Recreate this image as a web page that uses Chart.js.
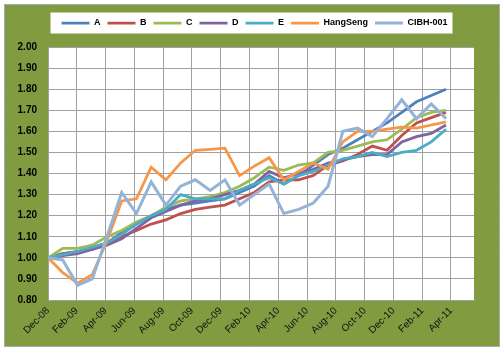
<!DOCTYPE html>
<html>
<head>
<meta charset="utf-8">
<script src="https://cdn.jsdelivr.net/npm/chart.js@4.4.0/dist/chart.umd.min.js"></script>
<style>
  html, body { margin: 0; padding: 0; background: #fff; }
</style>
</head>
<body>
<canvas id="myChart" width="504" height="353"></canvas>
<script>
// series names, in legend order
const seriesNames = ['A', 'B', 'C', 'D', 'E', 'HangSeng', 'CIBH-001'];

const seriesA = [1.00, 1.02, 1.03, 1.05, 1.07, 1.12, 1.16, 1.20, 1.23, 1.25, 1.26, 1.27, 1.28, 1.31,
                 1.34, 1.39, 1.35, 1.39, 1.44, 1.49, 1.52, 1.56, 1.60, 1.64, 1.69, 1.74, 1.77, 1.80];
const seriesB = [1.00, 1.02, 1.03, 1.04, 1.07, 1.10, 1.13, 1.16, 1.18, 1.21, 1.23, 1.24, 1.25, 1.28,
                 1.31, 1.36, 1.37, 1.37, 1.39, 1.44, 1.46, 1.49, 1.53, 1.51, 1.58, 1.64, 1.665, 1.69];
const seriesC = [1.00, 1.045, 1.045, 1.06, 1.10, 1.13, 1.17, 1.20, 1.24, 1.27, 1.28, 1.29, 1.31, 1.34,
                 1.38, 1.43, 1.415, 1.44, 1.45, 1.50, 1.51, 1.53, 1.55, 1.56, 1.61, 1.665, 1.69, 1.70];
const seriesD = [1.00, 1.01, 1.02, 1.04, 1.06, 1.09, 1.14, 1.19, 1.22, 1.25, 1.27, 1.28, 1.30, 1.32,
                 1.35, 1.41, 1.38, 1.40, 1.42, 1.45, 1.465, 1.48, 1.49, 1.49, 1.55, 1.575, 1.59, 1.63];
const seriesE = [1.00, 1.015, 1.03, 1.05, 1.07, 1.11, 1.16, 1.20, 1.23, 1.30, 1.28, 1.28, 1.28, 1.32,
                 1.35, 1.38, 1.35, 1.39, 1.41, 1.44, 1.47, 1.48, 1.50, 1.48, 1.50, 1.51, 1.55, 1.61];
const hangSeng = [1.00, 0.93, 0.88, 0.92, 1.08, 1.27, 1.28, 1.43, 1.37, 1.45, 1.51, 1.515, 1.52, 1.39,
                  1.435, 1.475, 1.37, 1.41, 1.45, 1.42, 1.55, 1.60, 1.60, 1.61, 1.62, 1.615, 1.63, 1.645];
const cibh001 = [1.00, 0.99, 0.87, 0.90, 1.10, 1.31, 1.21, 1.36, 1.25, 1.34, 1.37, 1.32, 1.37, 1.25,
                 1.30, 1.35, 1.21, 1.23, 1.26, 1.34, 1.60, 1.615, 1.575, 1.66, 1.75, 1.66, 1.73, 1.66];

// x axis tick labels, one every two months
const monthLabels = ['Dec-08', 'Feb-09', 'Apr-09', 'Jun-09', 'Aug-09', 'Oct-09', 'Dec-09', 'Feb-10',
                     'Apr-10', 'Jun-10', 'Aug-10', 'Oct-10', 'Dec-10', 'Feb-11', 'Apr-11'];
// y axis ticks
const yTicks = [0.80, 0.90, 1.00, 1.10, 1.20, 1.30, 1.40, 1.50, 1.60, 1.70, 1.80, 1.90, 2.00];

const allSeries = [seriesA, seriesB, seriesC, seriesD, seriesE, hangSeng, cibh001];
const colors = ['#4f81bd', '#c0504d', '#9bbb59', '#8064a2', '#4bacc6', '#f79646', '#93b3d9'];

// olive background, white plot area and white legend box
const backdrop = {
    id: 'backdrop',
    beforeDraw(chart) {
        const ctx = chart.ctx;
        const a = chart.chartArea;
        ctx.save();
        ctx.fillStyle = '#ffffff';
        ctx.fillRect(0, 0, chart.width, chart.height);
        ctx.fillStyle = '#819b41';
        ctx.fillRect(5, 5, 494, 341);
        ctx.setLineDash([1, 1]);
        ctx.strokeStyle = '#555';
        ctx.lineWidth = 1;
        ctx.strokeRect(4.5, 4.5, 495, 342);
        ctx.setLineDash([]);
        ctx.fillStyle = '#ffffff';
        ctx.fillRect(a.left, a.top, a.right - a.left, a.bottom - a.top);
        const boxes = chart.legend && chart.legend.legendHitBoxes;
        if (boxes && boxes.length) {
            const l = Math.min(...boxes.map(b => b.left)) - 11;
            const r = Math.max(...boxes.map(b => b.left + b.width)) + 5;
            const t = Math.min(...boxes.map(b => b.top)) - 6;
            const bt = Math.max(...boxes.map(b => b.top + b.height)) + 6;
            ctx.fillRect(l, t, r - l, bt - t);
        }
        ctx.restore();
    }
};

const gridColor = '#a0a0a0';
const hiddenAxis = {
    type: 'linear',
    grid: { display: false },
    border: { display: false },
    ticks: { display: false }
};

const ctx = document.getElementById('myChart').getContext('2d');
const chart = new Chart(ctx, {
    type: 'line',
    data: {
        datasets: allSeries.map((values, i) => ({
            label: seriesNames[i],
            data: values.map((v, j) => ({ x: j, y: v })),
            xAxisID: 'x',
            yAxisID: 'y',
            borderColor: colors[i],
            backgroundColor: colors[i],
            borderWidth: i === 6 ? 3 : 2.75,
            pointRadius: 0,
            tension: 0,
            fill: false,
            // later series on top, as in the original
            order: allSeries.length - 1 - i
        }))
    },
    options: {
        responsive: false,
        animation: false,
        devicePixelRatio: 1,
        layout: { padding: { left: 10, right: 5, top: 11.5, bottom: 0 } },
        plugins: {
            tooltip: { enabled: false },
            legend: {
                position: 'top',
                labels: {
                    usePointStyle: true,
                    pointStyle: 'line',
                    pointStyleWidth: 28,
                    padding: 7,
                    color: '#000',
                    font: { family: 'Liberation Sans, Arial, sans-serif', size: 9, weight: 'bold' },
                    sort: (a, b) => a.datasetIndex - b.datasetIndex
                }
            }
        },
        scales: {
            // data axis: one step per observation
            x: {
                type: 'linear',
                display: false,
                min: 0,
                max: 28.9
            },
            y: {
                min: yTicks[0],
                max: yTicks[yTicks.length - 1],
                afterFit: s => { s.width = 38; },
                grid: { color: gridColor, drawTicks: false },
                border: { color: gridColor },
                ticks: {
                    stepSize: 0.1,
                    padding: 11,
                    color: '#000',
                    font: { family: 'Liberation Sans, Arial, sans-serif', size: 10, weight: 'bold' },
                    callback: v => v.toFixed(2)
                }
            },
            // label axis in months from Dec-08
            months: {
                type: 'linear',
                axis: 'x',
                position: 'bottom',
                min: 0,
                max: 29.6,
                afterFit: s => { s.height = 53; },
                grid: { color: gridColor, drawTicks: false },
                border: { color: gridColor },
                ticks: {
                    stepSize: 2,
                    includeBounds: false,
                    autoSkip: false,
                    minRotation: 45,
                    maxRotation: 45,
                    padding: 5,
                    color: '#111',
                    font: { family: 'Liberation Sans, Arial, sans-serif', size: 10 },
                    callback: v => monthLabels[v / 2]
                }
            },
            spacerTop: Object.assign({}, hiddenAxis, {
                axis: 'x', position: 'top', afterFit: s => { s.height = 9.5; }
            }),
            spacerRight: Object.assign({}, hiddenAxis, {
                axis: 'y', position: 'right', afterFit: s => { s.width = 25; }
            })
        }
    },
    plugins: [backdrop]
});
</script>
</body>
</html>
